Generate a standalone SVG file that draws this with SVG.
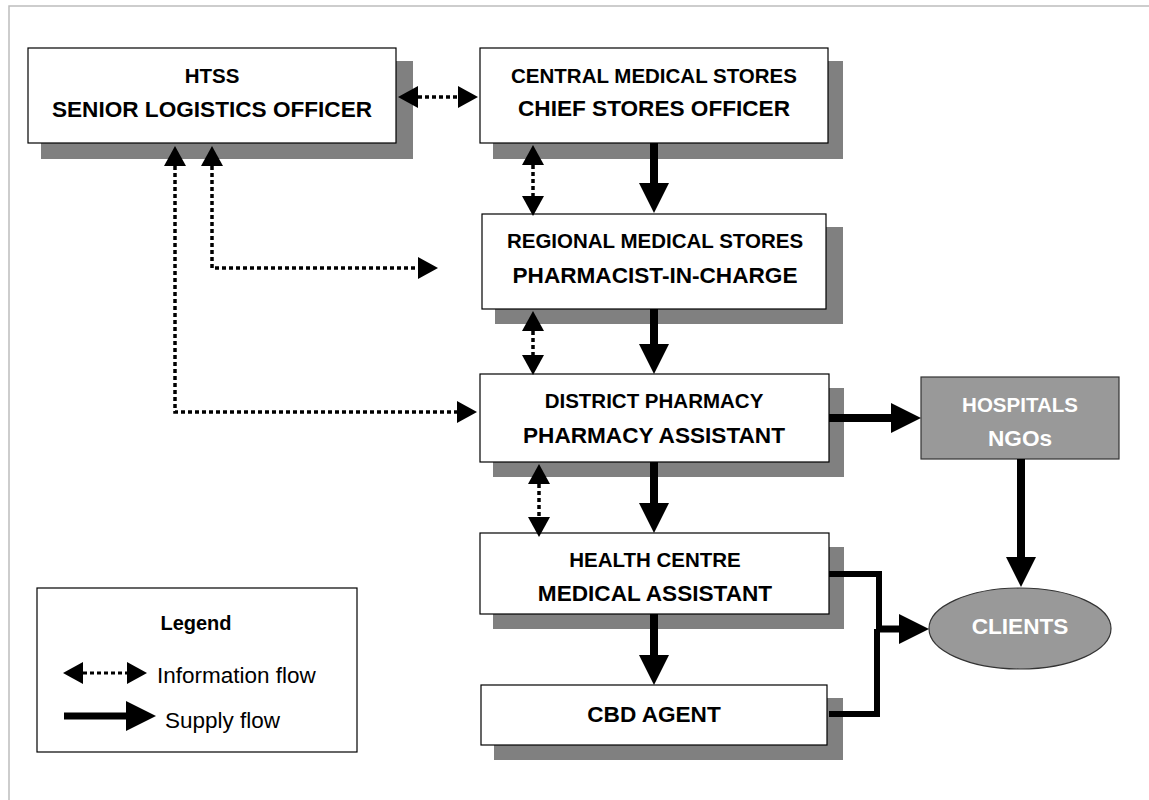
<svg xmlns="http://www.w3.org/2000/svg" width="1149" height="800" viewBox="0 0 1149 800">
<defs>
<marker id="ah-sup" markerUnits="userSpaceOnUse" markerWidth="30" markerHeight="30" refX="0" refY="15" orient="auto"><path d="M0,0 L30,15 L0,30 Z" fill="#000"/></marker>
<marker id="ah-info" markerUnits="userSpaceOnUse" markerWidth="20" markerHeight="22" refX="0" refY="11" orient="auto-start-reverse"><path d="M0,0 L20,11 L0,22 Z" fill="#000"/></marker>
</defs>
<style>
.frame{fill:none;stroke:#bdbdbd;stroke-width:1.5}
.shadow{fill:#808080}
.box{fill:#fff;stroke:#000;stroke-width:1.2}
.gbox{fill:#999;stroke:#333;stroke-width:1.2}
.t1{font-family:"Liberation Sans",Arial,sans-serif;font-weight:bold;font-size:20.5px;text-anchor:middle;fill:#000}
.t2{font-family:"Liberation Sans",Arial,sans-serif;font-weight:bold;font-size:22.6px;text-anchor:middle;fill:#000}
.w{fill:#fff}
.lg{font-family:"Liberation Sans",Arial,sans-serif;font-size:22.5px;fill:#000}
.lgb{font-family:"Liberation Sans",Arial,sans-serif;font-weight:bold;font-size:20px;fill:#000;text-anchor:middle}
.info{fill:none;stroke:#000;stroke-width:3.5;stroke-dasharray:4 3;marker-start:url(#ah-info);marker-end:url(#ah-info)}
.sup{fill:none;stroke:#000;stroke-width:8;marker-end:url(#ah-sup)}
.sup6{fill:none;stroke:#000;stroke-width:6;stroke-linejoin:miter}
</style>
<path class="frame" d="M9,800 V6 H1149"/>

<g id="htss">
<rect class="shadow" x="41" y="61" width="372" height="98"/>
<rect class="box" x="28" y="48" width="368" height="95"/>
<text class="t1" x="212" y="83">HTSS</text>
<text class="t2" x="212" y="117">SENIOR LOGISTICS OFFICER</text>
</g>
<g id="central">
<rect class="shadow" x="493" y="61" width="350" height="98"/>
<rect class="box" x="480" y="48" width="348" height="95"/>
<text class="t1" x="654" y="83">CENTRAL MEDICAL STORES</text>
<text class="t2" x="654" y="116">CHIEF STORES OFFICER</text>
</g>
<g id="regional">
<rect class="shadow" x="495" y="227" width="348" height="97"/>
<rect class="box" x="482" y="214" width="344" height="95"/>
<text class="t1" x="655" y="248">REGIONAL MEDICAL STORES</text>
<text class="t2" x="655" y="283">PHARMACIST-IN-CHARGE</text>
</g>
<g id="district">
<rect class="shadow" x="493" y="388" width="351" height="89"/>
<rect class="box" x="480" y="374" width="349" height="88"/>
<text class="t1" x="654" y="408">DISTRICT PHARMACY</text>
<text class="t2" x="654" y="443">PHARMACY ASSISTANT</text>
</g>
<g id="health">
<rect class="shadow" x="493" y="547" width="351" height="82"/>
<rect class="box" x="480" y="533" width="349" height="81"/>
<text class="t1" x="655" y="567">HEALTH CENTRE</text>
<text class="t2" x="655" y="601">MEDICAL ASSISTANT</text>
</g>
<g id="cbd">
<rect class="shadow" x="494" y="698" width="349" height="62"/>
<rect class="box" x="481" y="685" width="346" height="60"/>
<text class="t2" x="654" y="722">CBD AGENT</text>
</g>
<g id="hospitals">
<rect class="gbox" x="921" y="377" width="198" height="82"/>
<text class="t1 w" x="1020" y="412">HOSPITALS</text>
<text class="t2 w" x="1020" y="446">NGOs</text>
</g>
<g id="clients">
<ellipse class="gbox" cx="1020" cy="628.5" rx="91" ry="40.5"/>
<text class="t2 w" x="1020" y="634">CLIENTS</text>
</g>

<g id="connectors">
<path class="info" d="M418,97 H458"/>
<path class="info" d="M533,165 V196"/>
<path class="info" d="M533,331 V355"/>
<path class="info" d="M539,484 V517"/>
<path class="info" d="M175,166 V412 H457"/>
<path class="info" d="M212,166 V268 H418"/>
<path class="sup" d="M654,143 V183"/>
<path class="sup" d="M654,309 V344"/>
<path class="sup" d="M654,462 V503"/>
<path class="sup" d="M654,614 V655"/>
<path class="sup" d="M829,418 H891"/>
<path class="sup" d="M1021,459 V557"/>
<path class="sup6" d="M829,574 H879 V629"/>
<path class="sup6" d="M829,714 H877 V629"/>
<path class="sup" d="M876,629 H899" style="stroke-width:7"/>
</g>

<g id="legend">
<rect x="37" y="588" width="320" height="164" fill="#fff" stroke="#000" stroke-width="1.2"/>
<text class="lgb" x="196" y="630">Legend</text>
<path class="info" d="M83,673 H127" style="stroke-width:3"/>
<text class="lg" x="157" y="683">Information flow</text>
<path class="sup" d="M64,716 H126" style="stroke-width:7"/>
<text class="lg" x="165" y="728">Supply flow</text>
</g>
</svg>
